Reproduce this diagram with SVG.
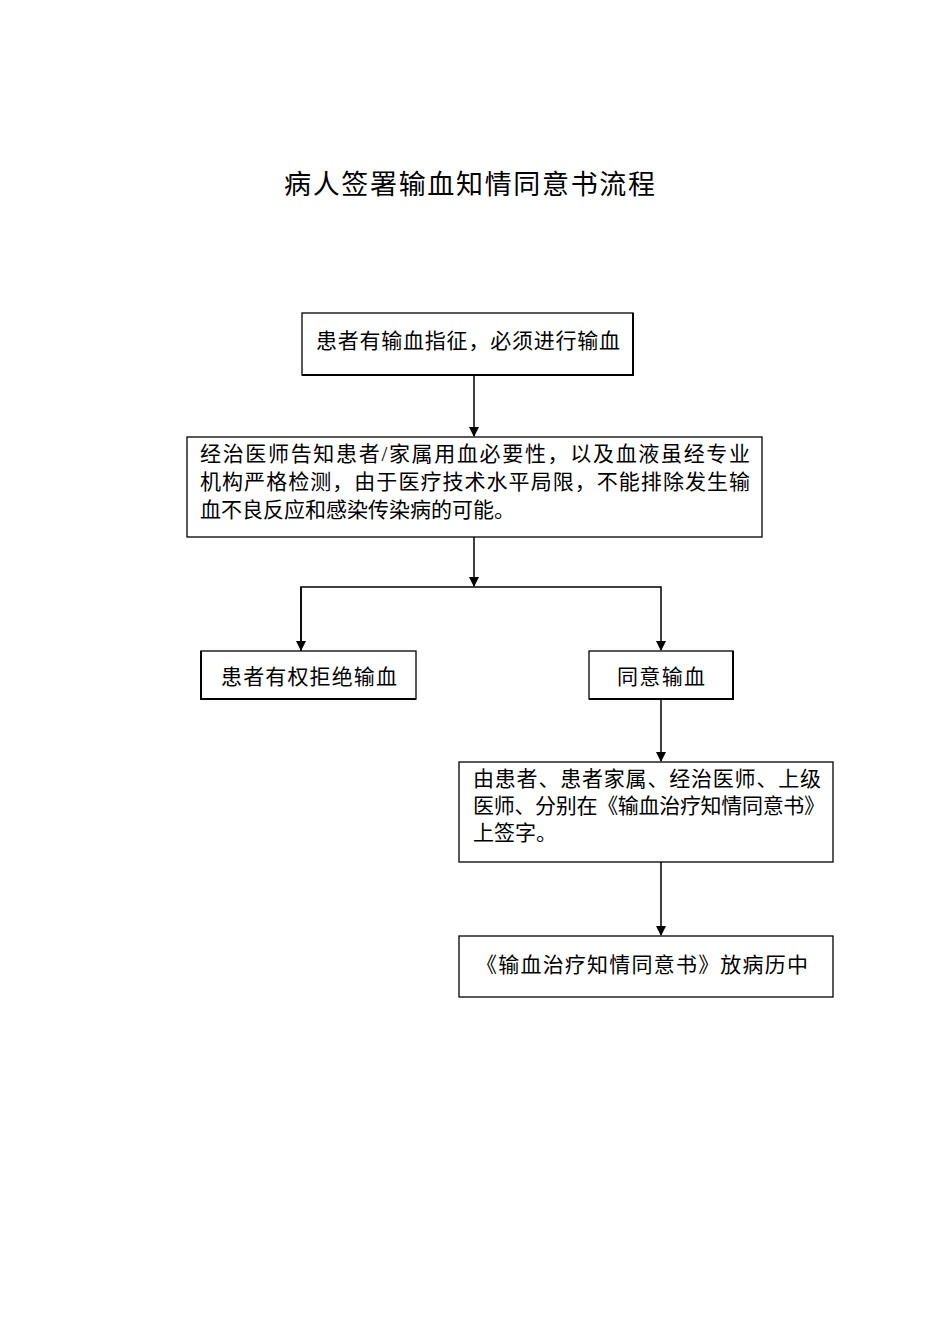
<svg xmlns="http://www.w3.org/2000/svg" width="950" height="1344" viewBox="0 0 950 1344">
<style>
.b{fill:#fff;stroke:#000;stroke-width:1.3}
.s{fill:none;stroke:#000;stroke-width:2}
.t{font-family:"Liberation Serif","Noto Sans CJK SC",serif;font-size:21px;fill:#000}
.c{fill:none;stroke:#000;stroke-width:1.5}
</style>
<defs><marker id="a" markerWidth="10" markerHeight="10" refX="9" refY="5" orient="auto" markerUnits="userSpaceOnUse"><path d="M0,0L10,5L0,10z" fill="#000"/></marker></defs>
<rect width="950" height="1344" fill="#fff"/>
<text class="t" x="284" y="194" textLength="371" style="font-size:27px">病人签署输血知情同意书流程</text>
<g id="n1"><rect class="b" x="302" y="313" width="331" height="62"/><path class="s" d="M633,313V375H302"/><text class="t" x="316" y="348" textLength="304">患者有输血指征，必须进行输血</text></g>
<g id="n2"><rect class="b" x="187" y="437" width="575" height="100"/><text class="t" x="200" y="461" textLength="550">经治医师告知患者/家属用血必要性，以及血液虽经专业</text><text class="t" x="200" y="489" textLength="550">机构严格检测，由于医疗技术水平局限，不能排除发生输</text><text class="t" x="200" y="517">血不良反应和感染传染病的可能。</text></g>
<g id="n3"><rect class="b" x="201" y="651" width="215" height="48"/><path class="s" d="M201,651V699H416"/><text class="t" x="221" y="684" textLength="176">患者有权拒绝输血</text></g>
<g id="n4"><rect class="b" x="589" y="651" width="144" height="48"/><path class="s" d="M733,651V699H589"/><text class="t" x="617" y="684" textLength="88">同意输血</text></g>
<g id="n5"><rect class="b" x="459" y="762" width="374" height="100"/><text class="t" x="473" y="786" textLength="348">由患者、患者家属、经治医师、上级</text><text class="t" x="473" y="813" textLength="352">医师、分别在《输血治疗知情同意书》</text><text class="t" x="473" y="840">上签字。</text></g>
<g id="n6"><rect class="b" x="459" y="936" width="374" height="61"/><text class="t" x="476" y="972" textLength="332">《输血治疗知情同意书》放病历中</text></g>
<g id="connectors">
<path class="c" d="M474,375V436" marker-end="url(#a)"/>
<path class="c" d="M474,537V586" marker-end="url(#a)"/>
<path class="c" d="M301,651V587H661V650" marker-end="url(#a)"/>
<path class="c" d="M301,587V650" marker-end="url(#a)"/>
<path class="c" d="M661,699V761" marker-end="url(#a)"/>
<path class="c" d="M661,862V935" marker-end="url(#a)"/>
</g>
</svg>
